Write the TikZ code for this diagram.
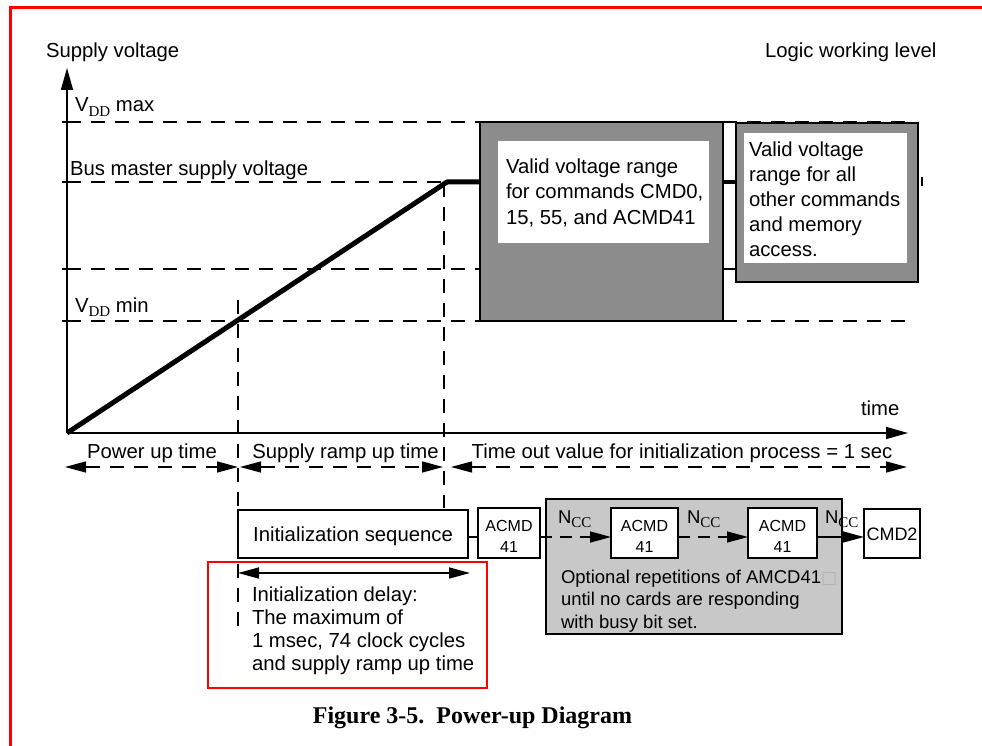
\documentclass[tikz,border=0pt]{standalone}
\usepackage{fontspec}
\setmainfont{Liberation Sans}
\newfontfamily\myserif{Liberation Serif}
\newfontfamily\mysym{DejaVu Sans}
\usetikzlibrary{arrows.meta}
\newcommand\lowsub[1]{{\myserif\fontsize{15}{15}\selectfont\raisebox{-4.3pt}{#1}}}
\definecolor{boxdark}{RGB}{140,140,140}
\definecolor{boxlight}{RGB}{200,200,200}
\definecolor{frame}{RGB}{255,0,0}
\begin{document}
\begin{tikzpicture}[x=1pt,y=-1pt,
  lbl/.style={inner sep=0pt, outer sep=0pt, anchor=base west, font=\fontsize{20.3}{24}\selectfont},
  clbl/.style={lbl, anchor=base},
  small/.style={inner sep=0pt, outer sep=0pt, anchor=base, font=\fontsize{16}{18}\selectfont},
  box/.style={draw, line width=2pt, inner sep=0pt, outer sep=0pt, anchor=north west},
  dashln/.style={line width=1.3pt, dash pattern=on 14pt off 10pt},
  tri/.style={-{Triangle[length=21pt,width=11pt]}},
  tritri/.style={{Triangle[length=21pt,width=11pt]}-{Triangle[length=21pt,width=11pt]}},
]
\useasboundingbox (0,0) rectangle (982,746);
% frame
\draw[frame, line width=2.5pt] (10.5,746) -- (10.5,7.5) -- (982,7.5);

% key coordinates
\coordinate (O) at (67,433);
\coordinate (ytop) at (67,68);
\coordinate (xend) at (908,433);
\coordinate (lmax) at (67,122);
\coordinate (lbus) at (67,182);
\coordinate (lmid) at (67,269);
\coordinate (lmin) at (67,321);
\coordinate (rampT) at (447,182);
\coordinate (vA1) at (238,300);
\coordinate (vA2) at (238,632);
\coordinate (vB1) at (444,183);
\coordinate (vB2) at (444,508);

% boxes (upper)
\node[box, fill=boxdark, minimum width=243pt, minimum height=199pt] (bigA) at (480,122) {};
\node[box, draw=none, fill=white, minimum width=211pt, minimum height=102pt] (whA) at (498,141) {};
\node[box, fill=boxdark, minimum width=182pt, minimum height=159pt] (bigB) at (736,123) {};
\node[box, draw=none, fill=white, minimum width=163pt, minimum height=130pt] (whB) at (744,133) {};

% axes
\draw[line width=1.6pt, -{Triangle[length=22pt,width=12pt]}] (O) -- (ytop);
\draw[line width=1.6pt, -{Triangle[length=22pt,width=12pt]}] (O) -- (xend);
\foreach \c in {lmax,lbus,lmid,lmin} \draw[line width=1.3pt] ([xshift=-5pt]\c) -- (\c);

% dashed levels
\draw[dashln] (lmax) -- (bigA.west |- lmax);
\draw[dashln] (bigA.east |- lmax) -- (908,122);
\draw[dashln] (lbus) -- (rampT);
\draw[dashln] (lmid) -- (bigA.west |- lmid);
\draw[black, line width=1.2pt] (bigA.east |- lmid) -- (bigB.west |- lmid);
\draw[dashln] (lmin) -- (bigA.west |- lmin);
\draw[dashln] (bigA.east |- lmin) -- (908,321);
\draw[line width=4pt] (bigA.east |- rampT) -- (bigB.west |- rampT);
\draw[line width=2pt] (922,177) -- (922,186);

% vertical dashed
\draw[dashln] (vA1) -- (vA2);
\draw[dashln] (vB1) -- (vB2);

% ramp
\draw[line width=5pt, line join=round] (O) -- (rampT) -- (bigA.west |- rampT);

% labels
\node[lbl] (tSV) at (46,58) {Supply voltage};
\node[lbl] (tLW) at (765,58) {Logic working level};
\node[lbl] (tMax) at (75,112) {V\lowsub{DD} max};
\node[lbl] (tBus) at (70,176) {Bus master supply voltage};
\node[lbl] (tMin) at (75,312) {V\lowsub{DD} min};
\node[lbl] (tTime) at (861,415) {time};

\node[lbl] (a1) at (506,174) {Valid voltage range};
\node[lbl] (a2) at (506,199) {for commands CMD0,};
\node[lbl] (a3) at (506,224) {15, 55, and ACMD41};

\node[lbl] (b1) at (749,157) {Valid voltage};
\node[lbl] (b2) at (749,182) {range for all};
\node[lbl] (b3) at (749,206.5) {other commands};
\node[lbl] (b4) at (749,231) {and memory};
\node[lbl] (b5) at (749,256) {access.};

% time spans
\coordinate (p0) at (65,467);
\coordinate (p1) at (238,467);
\coordinate (p2) at (240,467);
\coordinate (p3) at (443,467);
\coordinate (p4) at (451,467);
\coordinate (p5) at (907,467);
\draw[dashln, tritri] (p0) -- (p1);
\draw[dashln, tritri] (p2) -- (p3);
\draw[dashln, tritri] (p4) -- (p5);
\node[clbl] (tPU) at (152,458) {Power up time};
\node[clbl] (tSR) at (345.5,458) {Supply ramp up time};
\node[clbl] (tTO) at (682,458) {Time out value for initialization process = 1 sec};

% lower chain
\node[box, fill=boxlight, minimum width=296pt, minimum height=135pt] (opt) at (546,499) {};
\node[box, fill=white, minimum width=230pt, minimum height=48pt] (initS) at (238,510) {};
\node[box, fill=white, minimum width=62pt, minimum height=50pt] (ac1) at (478,508) {};
\node[box, fill=white, minimum width=67pt, minimum height=50pt] (ac2) at (611,508) {};
\node[box, fill=white, minimum width=69pt, minimum height=50pt] (ac3) at (748,508) {};
\node[box, fill=white, minimum width=56pt, minimum height=49pt] (cmd2) at (864,509) {};

\node[clbl] (tIS) at (353,541.5) {Initialization sequence};
\node[small] (ac1a) at (509,531.5) {ACMD};
\node[small] (ac1b) at (509,552) {41};
\node[small] (ac2a) at (644.5,531.5) {ACMD};
\node[small] (ac2b) at (644.5,552) {41};
\node[small] (ac3a) at (782.5,531.5) {ACMD};
\node[small] (ac3b) at (782.5,552) {41};
\node[small, font=\fontsize{18}{20}\selectfont] (cmd2t) at (892,540) {CMD2};

\coordinate (ly) at (0,537);
\draw[line width=1.5pt] (initS.east |- ly) -- (ac1.west |- ly);
\draw[line width=1.5pt, dash pattern=on 12pt off 8pt, tri] (ac1.east |- ly) -- (ac2.west |- ly);
\draw[line width=1.5pt, dash pattern=on 12pt off 8pt, tri] (ac2.east |- ly) -- (ac3.west |- ly);
\draw[line width=1.5pt, tri] (ac3.east |- ly) -- (cmd2.west |- ly);

\node[lbl, font=\fontsize{18.5}{20}\selectfont] (n1) at (558,523) {N\lowsub{CC}};
\node[lbl, font=\fontsize{18.5}{20}\selectfont] (n2) at (687,523) {N\lowsub{CC}};
\node[lbl, font=\fontsize{18.5}{20}\selectfont] (n3) at (825,523) {N\lowsub{CC}};

\node[lbl, font=\fontsize{18.5}{20}\selectfont] (o1) at (561,583) {Optional repetitions of AMCD41{\mysym\fontsize{17}{17}\selectfont\color{gray!60}□}};
\node[lbl, font=\fontsize{18.5}{20}\selectfont] (o2) at (561,605.5) {until no cards are responding};
\node[lbl, font=\fontsize{18.5}{20}\selectfont] (o3) at (561,628) {with busy bit set.};

% red box
\node[box, draw=frame, line width=2.5pt, minimum width=279pt, minimum height=126pt] (redb) at (208,562) {};
\coordinate (d0) at (238,573);
\coordinate (d1) at (470,573);
\draw[line width=1.5pt, tritri] (d0) -- (d1);
\node[lbl] (r1) at (252,601.5) {Initialization delay:};
\node[lbl] (r2) at (252,624.5) {The maximum of};
\node[lbl] (r3) at (252,647) {1 msec, 74 clock cycles};
\node[lbl] (r4) at (252,670) {and supply ramp up time};

% caption
\node[inner sep=0pt, anchor=base, font=\myserif\bfseries\fontsize{24}{28}\selectfont] (cap) at (472.5,723) {Figure 3-5.\ \ Power-up Diagram};
\end{tikzpicture}
\end{document}
